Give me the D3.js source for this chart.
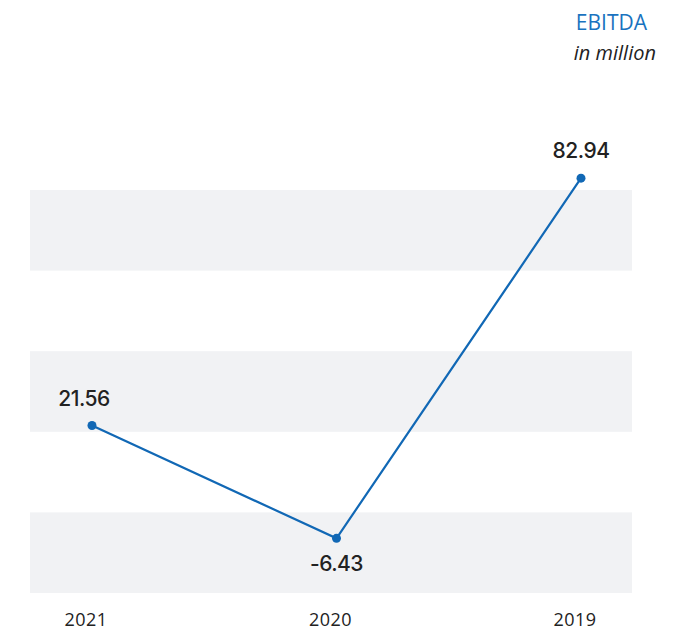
<!DOCTYPE html>
<html>
<head>
<meta charset="utf-8">
<script src="https://cdn.jsdelivr.net/npm/d3@7"></script>
<style>
  html, body { margin: 0; padding: 0; background: #fff; }
  svg { display: block; }
</style>
</head>
<body>
<svg id="chart" width="697" height="630"></svg>
<script>
// EBITDA by year, in million
const years = ["2021", "2020", "2019"];
const ebitda = [21.56, -6.43, 82.94];
// label placement per point: above or below the marker
const labelSide = ["above", "below", "above"];
const labelShift = [-8, 0, 0];
// horizontal background bands (value ranges)
const bandRanges = [[-20, 0], [20, 40], [60, 80]];

const svg = d3.select("#chart");
const blue = "#1168b5";

const x = d3.scalePoint().domain(years).range([92, 581]);
const y = d3.scaleLinear().domain([-20, 80]).range([593, 190]);

// background bands
svg.append("g").selectAll("rect")
  .data(bandRanges)
  .join("rect")
  .attr("x", 30)
  .attr("width", 632 - 30)
  .attr("y", d => y(d[1]))
  .attr("height", d => y(d[0]) - y(d[1]))
  .attr("fill", "#f1f2f4");

const pts = years.map((yr, i) => ({ yr, v: ebitda[i], side: labelSide[i], dx: labelShift[i] }));

// line
svg.append("path")
  .datum(pts)
  .attr("fill", "none")
  .attr("stroke", blue)
  .attr("stroke-width", 2.2)
  .attr("d", d3.line().x(d => x(d.yr)).y(d => y(d.v)));

// markers
svg.append("g").selectAll("circle")
  .data(pts)
  .join("circle")
  .attr("cx", d => x(d.yr))
  .attr("cy", d => y(d.v))
  .attr("r", 4.5)
  .attr("fill", blue);

// value labels
svg.append("g").selectAll("text")
  .data(pts)
  .join("text")
  .attr("x", d => x(d.yr) + d.dx)
  .attr("y", d => y(d.v) + (d.side === "above" ? -20 : 33))
  .attr("text-anchor", "middle")
  .attr("font-family", "Inter, 'Liberation Sans', sans-serif")
  .attr("font-weight", 500)
  .attr("font-size", 21)
  .attr("letter-spacing", -0.5)
  .attr("fill", "#222")
  .text(d => d.v.toFixed(2));

// x axis labels
svg.append("g").selectAll("text")
  .data(years)
  .join("text")
  .attr("x", d => x(d) - 6)
  .attr("y", 626)
  .attr("text-anchor", "middle")
  .attr("font-family", "'Open Sans', sans-serif")
  .attr("font-size", 18)
  .attr("letter-spacing", 0.5)
  .attr("fill", "#222")
  .text(d => d);

// title and unit
svg.append("text")
  .attr("x", 647)
  .attr("y", 30)
  .attr("text-anchor", "end")
  .attr("font-family", "'Open Sans', sans-serif")
  .attr("font-weight", 500)
  .attr("font-size", 21)
  .attr("fill", "#1a73c0")
  .text("EBITDA");

svg.append("text")
  .attr("x", 656)
  .attr("y", 60)
  .attr("text-anchor", "end")
  .attr("font-family", "'Open Sans', sans-serif")
  .attr("font-style", "italic")
  .attr("font-size", 20)
  .attr("fill", "#222")
  .text("in million");
</script>
</body>
</html>
